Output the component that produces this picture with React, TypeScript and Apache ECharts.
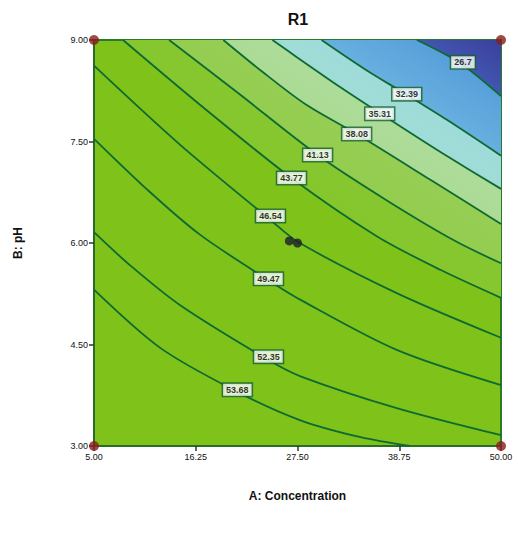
import React, { useEffect, useRef } from 'react';
import * as echarts from 'echarts';

// Axis ticks
const xTickValues = [5, 16.25, 27.5, 38.75, 50];
const yTickValues = [3, 4.5, 6, 7.5, 9];

// Contour levels (labels as printed)
const contourLevels = ['26.7', '32.39', '35.31', '38.08', '41.13', '43.77', '46.54', '49.47', '52.35', '53.68'];

// Contour lines, [A: Concentration, B: pH]
const c26_7 = [[40.7, 9.0], [45.46, 8.66], [50, 8.17]];
const c32_39 = [[30.16, 9.0], [34.82, 8.58], [39.58, 8.19], [44.02, 7.82], [50, 7.29]];
const c35_31 = [[24.73, 9.0], [27.39, 8.75], [32.04, 8.32], [36.59, 7.92], [43.35, 7.34], [50, 6.8]];
const c38_08 = [[19.3, 9.0], [23.62, 8.53], [28.39, 8.05], [34.04, 7.61], [42.24, 6.93], [50, 6.28]];
const c41_13 = [[13.31, 9.0], [21.18, 8.19], [29.72, 7.3], [37.25, 6.64], [44.79, 6.04], [50, 5.7]];
const c43_77 = [[8.21, 9.0], [16.75, 8.04], [26.84, 6.96], [36.26, 6.1], [43.35, 5.6], [50, 5.19]];
const c46_54 = [[5, 8.62], [14.53, 7.45], [24.51, 6.34], [27.61, 6.01], [38.47, 5.26], [50, 4.6]];
const c49_47 = [[5, 7.54], [11.21, 6.75], [16.75, 6.12], [24.29, 5.45], [27.83, 5.16], [38.47, 4.42], [50, 3.9]];
const c52_35 = [[5, 6.16], [8.99, 5.67], [14.53, 5.08], [24.29, 4.27], [27.83, 4.03], [38.47, 3.56], [50, 3.16]];
const c53_68 = [[5, 5.31], [12.32, 4.45], [20.85, 3.8], [27.83, 3.38], [34.48, 3.13], [39.91, 3.0]];

const contourLines = [c26_7, c32_39, c35_31, c38_08, c41_13, c43_77, c46_54, c49_47, c52_35, c53_68];

// Label anchor positions for each contour level
const labelPoints = [
  [45.79, 8.67], [39.58, 8.2], [36.59, 7.91], [34.04, 7.61], [29.72, 7.3],
  [26.84, 6.96], [24.51, 6.4], [24.29, 5.47], [24.29, 4.32], [20.85, 3.83],
];

// Design points
const factorialPoints = [[5, 3], [5, 9], [50, 3], [50, 9]];
const centerPoints = [[26.6, 6.03], [27.5, 6.0]];

// Fill colours for the region beyond each contour (index into contourLines), drawn outer first
const fillOrder = [5, 4, 3, 2, 1, 0];
const fillColors: Record<number, [string, string]> = {
  5: ['#83c528', '#89c834'],
  4: ['#8dc941', '#9bd260'],
  3: ['#a2d77e', '#b4e0ac'],
  2: ['#a8e0cc', '#98d9e2'],
  1: ['#84cde8', '#4b92d6'],
  0: ['#4a6ec6', '#3a3f9c'],
};

export default function App() {
  const ref = useRef<HTMLDivElement>(null);

  useEffect(() => {
    if (!ref.current) return;
    const chart = echarts.init(ref.current, undefined, { renderer: 'svg' });

    const areaSeries = fillOrder.map((idx, k) => ({
      type: 'line',
      name: 'area' + contourLevels[idx],
      data: contourLines[idx],
      smooth: 0.3,
      showSymbol: false,
      symbol: 'none',
      lineStyle: { width: 0, opacity: 0 },
      areaStyle: {
        origin: 'end',
        opacity: 1,
        color: {
          type: 'linear', x: 0, y: 1, x2: 1, y2: 0,
          colorStops: [
            { offset: 0, color: fillColors[idx][0] },
            { offset: 1, color: fillColors[idx][1] },
          ],
        },
      },
      z: 1 + k * 0.01,
      silent: true,
    }));

    const lineSeries = contourLines.map((pts, i) => ({
      type: 'line',
      name: contourLevels[i],
      data: pts,
      smooth: 0.3,
      showSymbol: false,
      symbol: 'none',
      lineStyle: { color: '#0d6a33', width: 1.8 },
      z: 3,
      silent: true,
    }));

    const font = 'Arial, "Liberation Sans", sans-serif';

    const option: any = {
      animation: false,
      grid: {
        left: 94, right: 17, top: 40, bottom: 87,
        show: true,
        backgroundColor: '#7fc21a',
        borderColor: '#2a7a2a',
        borderWidth: 2,
      },
      graphic: [
        {
          type: 'text', x: 298, y: 19, z: 10,
          style: { text: 'R1', align: 'center', verticalAlign: 'middle', font: 'bold 16px Arial, "Liberation Sans", sans-serif', fill: '#111' },
        },
      ],
      xAxis: {
        type: 'value', min: 5, max: 50,
        name: 'A: Concentration', nameLocation: 'middle', nameGap: 44,
        nameTextStyle: { fontSize: 12, fontWeight: 'bold', color: '#111', fontFamily: font },
        axisLine: { show: true, lineStyle: { color: '#2a6a2a', width: 1.5 } },
        axisTick: { show: true, length: 5, customValues: xTickValues, lineStyle: { color: '#333', width: 1.5 } },
        axisLabel: {
          customValues: xTickValues, fontSize: 9, color: '#111', margin: 6,
          fontFamily: font,
          formatter: (v: number) => v.toFixed(2),
        },
        splitLine: { show: false },
      },
      yAxis: {
        type: 'value', min: 3, max: 9, interval: 1.5,
        name: 'B: pH', nameLocation: 'middle', nameGap: 70,
        nameTextStyle: { fontSize: 12, fontWeight: 'bold', color: '#111', fontFamily: font },
        axisLine: { show: true, lineStyle: { color: '#2a6a2a', width: 1.5 } },
        axisTick: { show: true, length: 5, lineStyle: { color: '#333', width: 1.5 } },
        axisLabel: {
          fontSize: 9, color: '#111', margin: 6,
          fontFamily: font,
          formatter: (v: number) => v.toFixed(2),
        },
        splitLine: { show: false },
      },
      series: [
        ...areaSeries,
        ...lineSeries,
        {
          type: 'scatter',
          name: 'labels',
          data: labelPoints.map((p, i) => ({ value: p, name: contourLevels[i] })),
          symbolSize: 1,
          itemStyle: { color: 'rgba(0,0,0,0)' },
          label: {
            show: true, position: 'inside', formatter: '{b}',
            backgroundColor: '#ffffff', borderColor: '#17622d', borderWidth: 1.5,
            padding: [2, 3, 1, 3], fontSize: 9, fontWeight: 'bold', color: '#000',
            fontFamily: font,
          },
          z: 5,
          silent: true,
        },
        {
          type: 'scatter',
          name: 'center',
          data: centerPoints,
          symbolSize: 9,
          itemStyle: { color: '#1c1a2c' },
          z: 6,
          silent: true,
        },
        {
          type: 'scatter',
          name: 'factorial',
          data: factorialPoints,
          symbolSize: 10,
          clip: false,
          itemStyle: { color: '#8a1c1c' },
          z: 7,
          silent: true,
        },
      ],
    };

    chart.setOption(option);
    return () => chart.dispose();
  }, []);

  return <div ref={ref} style={{ width: 518, height: 533, position: 'absolute', left: 0, top: 0 }} />;
}
